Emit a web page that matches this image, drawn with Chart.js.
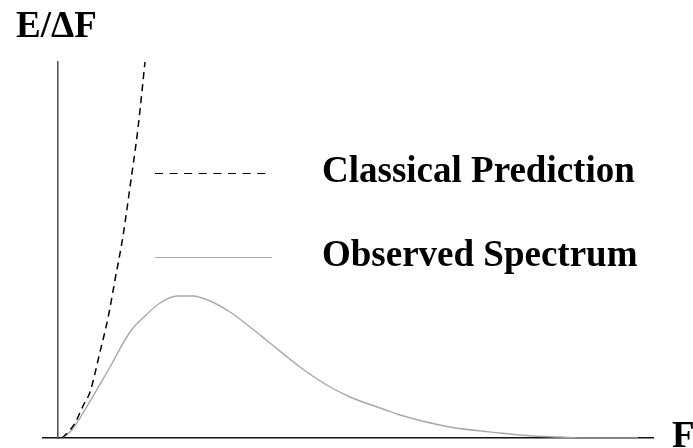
<!DOCTYPE html>
<html>
<head>
<meta charset="utf-8">
<title>E/ΔF</title>
<script src="https://cdn.jsdelivr.net/npm/chart.js@4/dist/chart.umd.min.js"></script>
<style>
  html, body { margin: 0; padding: 0; background: #fff; }
  canvas { display: block; }
</style>
</head>
<body>
<canvas id="c" width="693" height="448"></canvas>
<script>
// Frequency (F) and energy per frequency interval (E/ΔF), arbitrary units.
const classicalF = [0.4, 1.2, 1.7, 2.5, 3.2, 4.2, 5.0, 5.7, 6.5, 7.2, 8.0, 8.7];
const classicalE = [0, 0.8, 1.5, 3.2, 4.6, 8.6, 12.0, 15.8, 20.2, 25.1, 31.0, 37.6];

const observedF = [0.4, 1.4, 2.5, 5.2, 7.2, 8.7, 10.2, 11.9, 13.5, 15.2, 17.2, 19.2, 21.2,
                   24.2, 26.7, 29.2, 32.5, 34.2, 39.2, 44.2, 47.5, 50.2, 52.7, 58.0];
const observedE = [0, 0.8, 2.5, 7.1, 10.6, 12.2, 13.5, 14.2, 14.2, 13.7, 12.6, 11.1, 9.5,
                   7.1, 5.4, 4.1, 2.9, 2.3, 1.1, 0.5, 0.2, 0.1, 0, 0];

const seriesLabels = ['Classical Prediction', 'Observed Spectrum'];
const axisLabels = { y: 'E/ΔF', x: 'F' };

const toPoints = (xs, ys) => xs.map((x, i) => ({ x: x, y: ys[i] }));

const FONT = 'bold 37px "Liberation Serif", "Times New Roman", serif';

// Axis titles and the in-plot key, drawn on top of the chart.
const annotations = {
  id: 'annotations',
  afterDraw(chart) {
    const ctx = chart.ctx;
    const area = chart.chartArea;
    ctx.save();
    ctx.font = FONT;
    ctx.fillStyle = '#000';
    ctx.textBaseline = 'alphabetic';
    ctx.textAlign = 'left';
    ctx.fillText(axisLabels.y, 16, 37);
    ctx.fillText(axisLabels.x, area.right + 19, 447);

    // key
    const rows = [173, 257];
    const keyDash = [[8, 6.6], []];
    const keyColor = ['#000', '#a8a8a8'];
    chart.data.datasets.forEach((ds, i) => {
      const y = rows[i] + 0.5;
      ctx.save();
      ctx.strokeStyle = keyColor[i];
      ctx.lineWidth = 1;
      ctx.setLineDash(keyDash[i]);
      ctx.beginPath();
      ctx.moveTo(155, y);
      ctx.lineTo(272, y);
      ctx.stroke();
      ctx.restore();
      ctx.fillText(ds.label, 322, rows[i] + 9);
    });
    ctx.restore();
  }
};

new Chart(document.getElementById('c'), {
  type: 'line',
  data: {
    datasets: [
      {
        label: seriesLabels[0],
        data: toPoints(classicalF, classicalE),
        borderColor: '#000',
        borderWidth: 1.5,
        borderDash: [7, 5],
        pointRadius: 0,
        cubicInterpolationMode: 'monotone',
        fill: false
      },
      {
        label: seriesLabels[1],
        data: toPoints(observedF, observedE),
        borderColor: '#a8a8a8',
        borderWidth: 1.4,
        pointRadius: 0,
        cubicInterpolationMode: 'monotone',
        fill: false
      }
    ]
  },
  options: {
    responsive: false,
    animation: false,
    devicePixelRatio: 1,
    layout: { padding: { left: 43, right: 40, top: 62, bottom: 10 } },
    plugins: {
      legend: { display: false },
      tooltip: { enabled: false }
    },
    scales: {
      x: {
        type: 'linear',
        min: -1.5,
        max: 59.5,
        position: { y: 0 },
        ticks: { display: false },
        grid: { display: false, drawTicks: false },
        border: { display: true, color: '#111', width: 1.6 }
      },
      y: {
        type: 'linear',
        min: 0,
        max: 37.6,
        position: { x: 0 },
        ticks: { display: false },
        grid: { display: false, drawTicks: false },
        border: { display: true, color: '#555', width: 1.6 }
      }
    }
  },
  plugins: [annotations]
});
</script>
</body>
</html>
